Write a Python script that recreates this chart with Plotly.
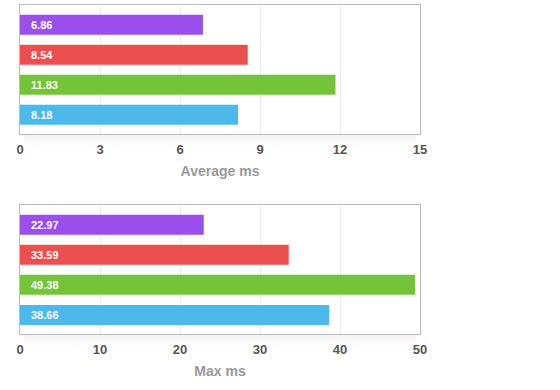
import plotly.graph_objects as go

categories = ["Series A", "Series B", "Series C", "Series D"]
colors = ["#9a4eec", "#ec4f4f", "#74c43a", "#4db8ea"]
avg_values = [6.86, 8.54, 11.83, 8.18]
max_values = [22.97, 33.59, 49.38, 38.66]
avg_ticks = [0, 3, 6, 9, 12, 15]
max_ticks = [0, 10, 20, 30, 40, 50]

FONT = "Liberation Sans, Arial, Helvetica, sans-serif"

fig = go.Figure()
fig.add_trace(go.Bar(x=avg_values, y=categories, orientation="h",
                     marker=dict(color=colors, line=dict(width=0)),
                     xaxis="x", yaxis="y", hoverinfo="x"))
fig.add_trace(go.Bar(x=max_values, y=categories, orientation="h",
                     marker=dict(color=colors, line=dict(width=0)),
                     xaxis="x2", yaxis="y2", hoverinfo="x"))

annotations = []
for vals, xa, ya in [(avg_values, "x", "y"), (max_values, "x2", "y2")]:
    for c, v in zip(categories, vals):
        annotations.append(dict(x=0, y=c, xref=xa, yref=ya, text=f"{v:.2f}",
                                showarrow=False, xanchor="left", xshift=9,
                                font=dict(family=FONT, size=11, color="white", weight="bold")))

# soft shadow below each plot frame
shapes = []
for xa, ya in [("x", "y"), ("x2", "y2")]:
    for k in range(2, 14, 2):
        shapes.append(dict(type="rect", xref=f"{xa} domain", yref=f"{ya} domain",
                           x0=0.01, x1=0.99, yanchor=0, ysizemode="pixel",
                           y0=0, y1=-k, line=dict(width=0),
                           fillcolor="rgba(0,0,0,0.008)", layer="below"))

def xaxis(ticks, rng, title, anchor):
    return dict(range=rng, tickvals=ticks, domain=[0, 1], anchor=anchor,
                showgrid=True, gridcolor="#ebebeb", gridwidth=1,
                showline=True, linecolor="#bdbdbd", linewidth=1, mirror=True,
                zeroline=False, ticks="", ticklabelstandoff=3,
                tickfont=dict(family=FONT, size=13, color="#555", weight="bold"),
                title=dict(text=title, standoff=10,
                           font=dict(family=FONT, size=14, color="#999", weight="bold")),
                fixedrange=True)

def yaxis(domain, anchor):
    return dict(domain=domain, anchor=anchor, type="category",
                categoryorder="array", categoryarray=categories,
                range=[3.645, -0.645], showticklabels=False, showgrid=False,
                showline=True, linecolor="#bdbdbd", linewidth=1, mirror=True,
                zeroline=False, ticks="", fixedrange=True)

fig.update_layout(
    width=560, height=390,
    margin=dict(l=20, r=140, t=0, b=0, autoexpand=False),
    paper_bgcolor="white", plot_bgcolor="white",
    showlegend=False, bargap=0.333,
    xaxis=xaxis(avg_ticks, [0, 15], "Average ms", "y"),
    yaxis=yaxis([0.6564, 0.9864], "x"),
    xaxis2=xaxis(max_ticks, [0, 50], "Max ms", "y2"),
    yaxis2=yaxis([0.1428, 0.4736], "x2"),
    annotations=annotations,
    shapes=shapes,
)

fig.write_html("out.html", config={"displayModeBar": False},
               post_script="document.body.style.margin='0';")
